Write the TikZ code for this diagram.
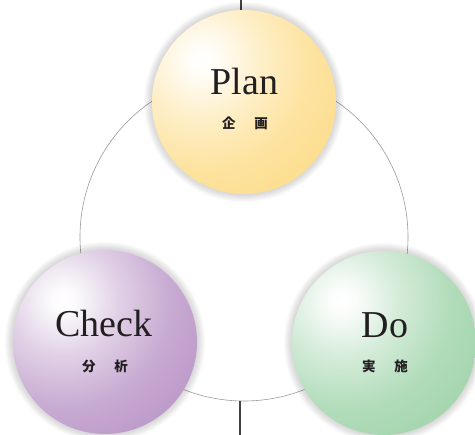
\documentclass[tikz,border=0pt]{standalone}
\usepackage{fontspec}
\usetikzlibrary{calc}
\setmainfont{Liberation Serif}
\newfontfamily\cjk{Noto Sans CJK JP}
\definecolor{planC}{HTML}{FDDC88}
\definecolor{checkC}{HTML}{B994C6}
\definecolor{doC}{HTML}{9ED3A9}
\definecolor{txtC}{HTML}{231F20}
\definecolor{ringC}{HTML}{9A9A9A}
\definecolor{stemC}{HTML}{444444}
\newcommand\mkhighlight[2]{%
  \pgfdeclareradialshading{#1}{\pgfpoint{0bp}{0bp}}{%
    color(0bp)=(white); color(2bp)=(#2!5!white); color(9bp)=(#2!45!white);
    color(17bp)=(#2!80!white); color(27bp)=(#2); color(50bp)=(#2!94!black)}}
\mkhighlight{planshade}{planC}
\mkhighlight{checkshade}{checkC}
\mkhighlight{doshade}{doC}
\begin{document}
\begin{tikzpicture}[x=1pt,y=-1pt,
  ball/.style={circle, minimum size=184pt, inner sep=0pt},
  glow/.style={draw=black, opacity=0.018, line width=#1},
  title/.style={anchor=base, inner sep=0pt, text=txtC, font=\fontsize{38}{38}\selectfont},
  kanji/.style={anchor=center, inner sep=0pt, text=txtC, font=\cjk\bfseries\fontsize{13.5}{13.5}\selectfont},
  ringline/.style={draw=ringC, line width=0.6pt},
  stem/.style={draw=stemC, line width=1.3pt}]
\useasboundingbox (0,0) rectangle (475,435);
% positions
\coordinate (pc) at (244,102);
\coordinate (cc) at (105,342);
\coordinate (dc) at (384,343);
\coordinate (topend) at (241,0);
\coordinate (botend) at (240,435);
% ring
\node[circle, minimum size=328pt, inner sep=0pt, ringline] (ring) at (244,237) {};
% stems
\draw[stem] (topend) -- (topend |- pc);
\draw[stem] (botend |- ring.south) -- (botend);
% glows
\foreach \c in {pc,cc,dc}{
  \foreach \w in {2,4,...,16}{
    \path[glow=\w pt] (\c) circle[radius=92pt];
  }
}
% balls
\foreach \c/\s in {pc/planshade, cc/checkshade, dc/doshade}{
  \begin{scope}
    \clip (\c) circle[radius=92pt];
    \path[shading=\s] ($(\c)+(-42,-42)$) circle[radius=160pt];
  \end{scope}
}
\node[ball] (plan) at (pc) {};
\node[ball] (check) at (cc) {};
\node[ball] (do) at (dc) {};
% texts
\node[title] (plantitle) at (244.5,95) {Plan};
\node[kanji] (plankanji) at (245,123) {企\hspace{19pt}画};
\node[title] (checktitle) at (104,337) {Check};
\node[kanji] (checkkanji) at (105,366) {分\hspace{19pt}析};
\node[title] (dotitle) at (385,338) {Do};
\node[kanji] (dokanji) at (385,366) {実\hspace{19pt}施};
\end{tikzpicture}
\end{document}
